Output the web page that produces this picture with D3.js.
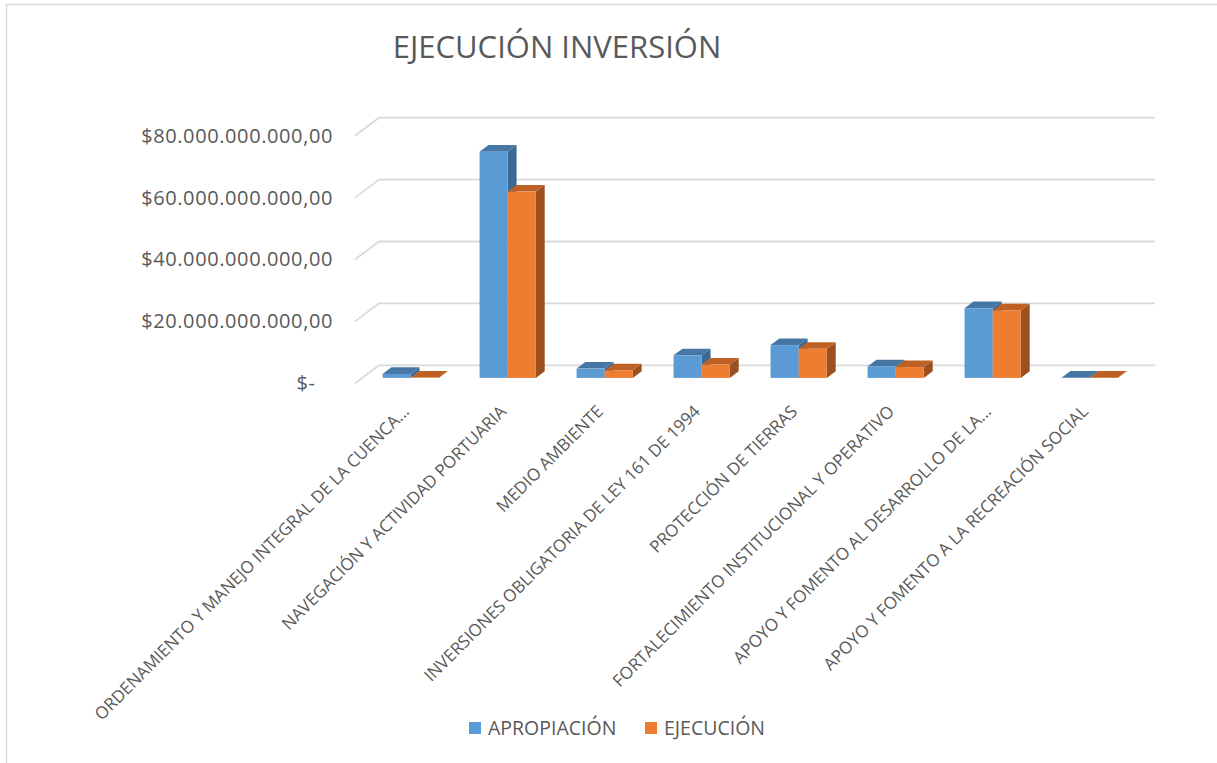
<!DOCTYPE html>
<html>
<head>
<meta charset="utf-8">
<script src="https://cdn.jsdelivr.net/npm/d3@7"></script>
<style>
  body { margin: 0; background: #fff; }
  text { font-family: "Open Sans", sans-serif; fill: #595959; }
</style>
</head>
<body>
<svg id="chart" width="1217" height="763"></svg>
<script>
var categories = [
  'ORDENAMIENTO Y MANEJO INTEGRAL DE LA CUENCA...',
  'NAVEGACIÓN Y ACTIVIDAD PORTUARIA',
  'MEDIO AMBIENTE',
  'INVERSIONES OBLIGATORIA DE LEY 161 DE 1994',
  'PROTECCIÓN DE TIERRAS',
  'FORTALECIMIENTO INSTITUCIONAL Y OPERATIVO',
  'APOYO Y FOMENTO AL DESARROLLO DE LA...',
  'APOYO Y FOMENTO A LA RECREACIÓN SOCIAL'
];
var series_names = ['APROPIACIÓN', 'EJECUCIÓN'];
var apropiacion = [1.3e9, 73.1e9, 3.0e9, 7.3e9, 10.6e9, 3.7e9, 22.5e9, 0.05e9];
var ejecucion = [0.1e9, 60.2e9, 2.4e9, 4.3e9, 9.4e9, 3.5e9, 21.8e9, 0.05e9];
var y_ticks = [0, 20e9, 40e9, 60e9, 80e9];
var title = 'EJECUCIÓN INVERSIÓN';

var colors = {
  'APROPIACIÓN': {front: '#5b9bd5', top: '#4676a3', side: '#3c6894'},
  'EJECUCIÓN': {front: '#ed7d31', top: '#bf6125', side: '#9b5020'}
};

// depth of the floor: back wall sits at (+24, -18) from the front edge
var depth_dx = 24, depth_dy = -18;
var bar_front = 0.3, bar_back = 0.67;

function shift(d) { return [d*depth_dx, d*depth_dy]; }

var svg = d3.select('#chart');

// frame
svg.append('path')
  .attr('d', 'M6.5,763 L6.5,4.5 L1217,4.5')
  .attr('fill', 'none')
  .attr('stroke', '#d9d9d9')
  .attr('stroke-width', 1.5);

svg.append('text')
  .attr('x', 557)
  .attr('y', 58)
  .attr('text-anchor', 'middle')
  .style('font-size', '31px')
  .text(title);

var x0 = d3.scaleBand().domain(categories).range([355, 1131]).paddingInner(0.42).paddingOuter(0.21);
var x1 = d3.scaleBand().domain(series_names).range([0, x0.bandwidth()]);
var y = d3.scaleLinear().domain([0, 80e9]).range([383.3, 135.7]);

var loc = d3.formatLocale({decimal: ',', thousands: '.', grouping: [3], currency: ['$', '']});
var money = loc.format('$,.2f');

// gridlines: diagonal on the left side, then along the back wall
var grid = svg.append('g').attr('class', 'grid');
for (let t of y_ticks) {
  let b = shift(1);
  grid.append('path')
    .attr('d', 'M' + x0.range()[0] + ',' + y(t) +
               ' L' + (x0.range()[0]+b[0]) + ',' + (y(t)+b[1]) +
               ' L' + (x0.range()[1]+b[0]) + ',' + (y(t)+b[1]))
    .attr('fill', 'none')
    .attr('stroke', '#d9d9d9')
    .attr('stroke-width', 1.8);
}

// y axis labels
svg.append('g')
  .attr('transform', 'translate(333,0)')
  .call(d3.axisLeft(y).tickValues(y_ticks).tickSize(0).tickPadding(0)
          .tickFormat(d => d == 0 ? '$-\u00a0\u00a0\u00a0' : money(d)))
  .call(g => g.select('.domain').remove())
  .selectAll('text')
    .attr('fill', '#595959')
    .style('font-family', '"Open Sans", sans-serif')
    .style('font-size', '20px')
    .style('letter-spacing', '0.6px');

// bars as simple prisms
var rows = [];
categories.forEach(function(c, i) {
  rows.push({cat: c, s: series_names[0], v: apropiacion[i]});
  rows.push({cat: c, s: series_names[1], v: ejecucion[i]});
});

var bars = svg.append('g').attr('class', 'bars');
for (let r of rows) {
  let f = shift(bar_front), k = shift(bar_back);
  let xl = x0(r.cat) + x1(r.s) + f[0];
  let xr = xl + x1.bandwidth();
  let yb = y(0) + f[1];
  let yt = y(r.v) + f[1];
  let ddx = k[0] - f[0], ddy = k[1] - f[1];
  let g = bars.append('g');
  // side
  g.append('path')
    .attr('d', 'M'+xr+','+yb+' L'+(xr+ddx)+','+(yb+ddy)+' L'+(xr+ddx)+','+(yt+ddy)+' L'+xr+','+yt+'Z')
    .attr('fill', colors[r.s].side);
  // top
  g.append('path')
    .attr('d', 'M'+xl+','+yt+' L'+xr+','+yt+' L'+(xr+ddx)+','+(yt+ddy)+' L'+(xl+ddx)+','+(yt+ddy)+'Z')
    .attr('fill', colors[r.s].top);
  // front
  g.append('rect')
    .attr('x', xl)
    .attr('y', yt)
    .attr('width', x1.bandwidth())
    .attr('height', yb - yt)
    .attr('fill', colors[r.s].front);
}

// category labels
var cs = shift(bar_front);
svg.append('g')
  .attr('transform', 'translate(' + (cs[0] - 9) + ',404)')
  .call(d3.axisBottom(x0).tickSize(0))
  .call(g => g.select('.domain').remove())
  .selectAll('text')
    .attr('x', 0)
    .attr('y', 0)
    .attr('dy', '0.71em')
    .attr('text-anchor', 'end')
    .attr('transform', 'rotate(-45)')
    .attr('fill', '#595959')
    .style('font-family', '"Open Sans", sans-serif')
    .style('font-size', '17px');

// legend
var legend = svg.append('g').attr('transform', 'translate(469,722)');
var lx = [0, 176];
series_names.forEach(function(s, i) {
  legend.append('rect')
    .attr('x', lx[i]).attr('y', 0)
    .attr('width', 12).attr('height', 12)
    .attr('fill', colors[s].front);
  legend.append('text')
    .attr('x', lx[i] + 19)
    .attr('y', 13)
    .style('font-size', '19.5px')
    .text(s);
});
</script>
</body>
</html>
